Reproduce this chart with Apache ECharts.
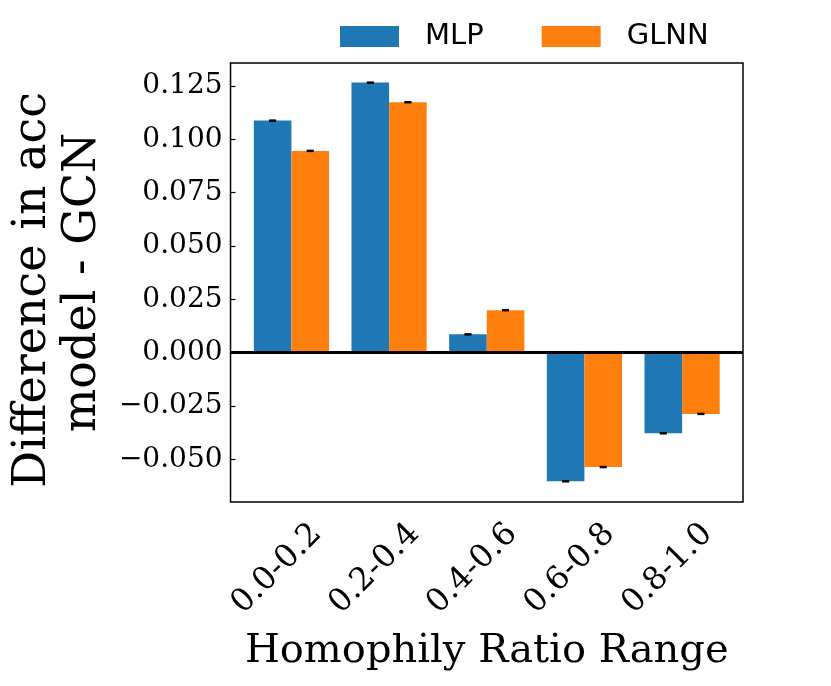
<!DOCTYPE html>
<html>
<head>
<meta charset="utf-8">
<script src="https://cdn.jsdelivr.net/npm/echarts@6/dist/echarts.min.js"></script>
<style>html,body{margin:0;padding:0;background:#fff;}#c{width:831px;height:686px;}</style>
</head>
<body>
<div id="c"></div>
<script>
const categories = ['0.0-0.2', '0.2-0.4', '0.4-0.6', '0.6-0.8', '0.8-1.0'];
const mlpValues = [0.1088, 0.1266, 0.0086, -0.0603, -0.0378];
const glnnValues = [0.0946, 0.1174, 0.0199, -0.0536, -0.0287];
const mlpErr = [0.0002, 0.0002, 0.0002, 0.0002, 0.0002];
const glnnErr = [0.0002, 0.0002, 0.0002, 0.0002, 0.0002];
const yTicks = [-0.05, -0.025, 0, 0.025, 0.05, 0.075, 0.1, 0.125];

const BAR_W = 0.385;
const LABEL_SHIFT = 0.26;
const BLUE = '#1f77b4', ORANGE = '#ff7f0e';

function barData(vals, side) {
  return vals.map((v, i) => [i + side * BAR_W / 2, v]);
}
function errData(vals, errs, side) {
  return vals.map((v, i) => [i + side * BAR_W / 2, v, errs[i]]);
}
function barRender(color) {
  return function (params, api) {
    const x = api.value(0), y = api.value(1);
    const p0 = api.coord([x - BAR_W / 2, y]);
    const p1 = api.coord([x + BAR_W / 2, 0]);
    return {
      type: 'rect',
      shape: { x: p0[0], y: Math.min(p0[1], p1[1]), width: p1[0] - p0[0], height: Math.abs(p1[1] - p0[1]) },
      style: { fill: color }
    };
  };
}
function errRender(params, api) {
  const x = api.value(0), y = api.value(1), e = api.value(2);
  const lo = api.coord([x, y - e]);
  const hi = api.coord([x, y + e]);
  const cap = 3.5;
  const st = { stroke: '#000', lineWidth: 1.6 };
  return {
    type: 'group',
    children: [
      { type: 'line', shape: { x1: lo[0], y1: lo[1], x2: hi[0], y2: hi[1] }, style: st },
      { type: 'line', shape: { x1: lo[0] - cap, y1: lo[1], x2: lo[0] + cap, y2: lo[1] }, style: st },
      { type: 'line', shape: { x1: hi[0] - cap, y1: hi[1], x2: hi[0] + cap, y2: hi[1] }, style: st }
    ]
  };
}

const chart = echarts.init(document.getElementById('c'), null, { renderer: 'canvas' });
chart.setOption({
  animation: false,
  backgroundColor: '#fff',
  legend: {
    data: [{ name: 'MLP', icon: 'rect' }, { name: 'GLNN', icon: 'rect' }],
    left: 335, top: 17,
    itemWidth: 59, itemHeight: 21, itemGap: 58,
    textStyle: { fontFamily: 'DejaVu Sans', fontSize: 29, color: '#000', padding: [0, 0, 0, 21] }
  },
  grid: { left: 230, right: 88, top: 63, bottom: 184, show: true, borderColor: '#000', borderWidth: 1.5, backgroundColor: 'transparent' },
  xAxis: {
    type: 'value', min: -0.6235, max: 4.6235,
    name: 'Homophily Ratio Range', nameLocation: 'middle', nameGap: 130,
    nameTextStyle: { fontFamily: 'DejaVu Serif', fontSize: 40, color: '#000' },
    axisLine: { show: false, onZero: false }, axisTick: { show: false }, splitLine: { show: false },
    axisLabel: {
      customValues: categories.map((c, i) => i + LABEL_SHIFT),
      rotate: 45, margin: 27,
      fontFamily: 'DejaVu Serif', fontSize: 32, color: '#000',
      formatter: (v) => categories[Math.round(v - LABEL_SHIFT)]
    }
  },
  yAxis: {
    type: 'value', min: -0.070, max: 0.1358,
    name: 'Difference in acc \nmodel - GCN', nameLocation: 'middle', nameGap: 122, nameRotate: 90,
    nameTextStyle: { fontFamily: 'DejaVu Serif', fontSize: 46, color: '#000', lineHeight: 50 },
    axisLine: { show: false, onZero: false }, splitLine: { show: false },
    axisTick: { show: true, inside: true, length: 5, customValues: yTicks, lineStyle: { color: '#000', width: 1.2 } },
    axisLabel: {
      customValues: yTicks, margin: 8,
      fontFamily: 'DejaVu Serif', fontSize: 28, color: '#000',
      formatter: (v) => v.toFixed(3).replace('-', '\u2212')
    }
  },
  series: [
    {
      name: 'MLP', type: 'custom', renderItem: barRender(BLUE), itemStyle: { color: BLUE },
      encode: { x: 0, y: 1 }, data: barData(mlpValues, -1), z: 2,
      markLine: { silent: true, symbol: 'none', label: { show: false }, lineStyle: { color: '#000', width: 3, type: 'solid' }, data: [{ yAxis: 0 }], z: 5 }
    },
    {
      name: 'GLNN', type: 'custom', renderItem: barRender(ORANGE), itemStyle: { color: ORANGE },
      encode: { x: 0, y: 1 }, data: barData(glnnValues, 1), z: 2
    },
    { name: 'MLP err', type: 'custom', renderItem: errRender, encode: { x: 0, y: 1 }, data: errData(mlpValues, mlpErr, -1), z: 4 },
    { name: 'GLNN err', type: 'custom', renderItem: errRender, encode: { x: 0, y: 1 }, data: errData(glnnValues, glnnErr, 1), z: 4 }
  ]
});
</script>
</body>
</html>
